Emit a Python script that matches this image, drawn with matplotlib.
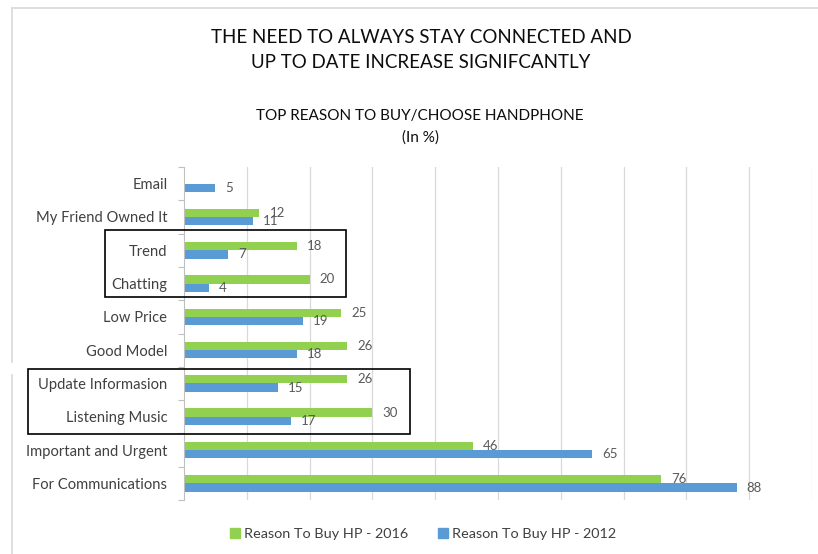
import numpy as np
import matplotlib
matplotlib.use("Agg")
import matplotlib.pyplot as plt
from matplotlib.lines import Line2D
from matplotlib.patches import Patch, Rectangle

plt.rcParams['font.family'] = ['Lato', 'DejaVu Sans']

# data (top to bottom)
categories = ["Email", "My Friend Owned It", "Trend", "Chatting", "Low Price",
              "Good Model", "Update Informasion", "Listening Music",
              "Important and Urgent", "For Communications"]
hp_2016 = [np.nan, 12, 18, 20, 25, 26, 26, 30, 46, 76]
hp_2012 = [5, 11, 7, 4, 19, 18, 15, 17, 65, 88]

GREEN = '#92D050'
BLUE = '#5B9BD5'
W, H = 818, 554

fig = plt.figure(figsize=(W / 100, H / 100), dpi=100)
ax = fig.add_axes([184 / W, 1 - 500 / H, 628 / W, 333 / H])


def fx(px):
    return px / W


def fy(py):
    return 1 - py / H


y = np.arange(len(categories))
bh = 0.25
ax.barh(y - bh / 2, hp_2016, height=bh, color=GREEN, label='Reason To Buy HP - 2016')
ax.barh(y + bh / 2, hp_2012, height=bh, color=BLUE, label='Reason To Buy HP - 2012')

# data labels
for yi, v in zip(y, hp_2016):
    if not np.isnan(v):
        ax.annotate(f"{v:g}", (v, yi - bh / 2), xytext=(10, 0), textcoords='offset pixels',
                    ha='left', va='center', fontsize=9.5, color='#595959')
for yi, v in zip(y, hp_2012):
    ax.annotate(f"{v:g}", (v, yi + bh / 2), xytext=(10, 0), textcoords='offset pixels',
                ha='left', va='center', fontsize=9.5, color='#595959')

ax.set_xlim(0, 100)
ax.set_ylim(len(categories) - 0.5, -0.5)
ax.set_xticks(np.arange(10, 101, 10))
ax.tick_params(axis='x', length=0, labelbottom=False)
ax.grid(axis='x', color='#D9D9D9', linewidth=0.9)
ax.set_axisbelow(True)

ax.set_yticks(y)
ax.set_yticklabels(categories, fontsize=10.6, color='#404040')
ax.set_yticks(np.arange(-0.5, len(categories)), minor=True)
ax.tick_params(axis='y', which='major', length=0, pad=12)
ax.tick_params(axis='y', which='minor', length=4.5, color='#BFBFBF', width=0.8)

for s in ['top', 'right', 'bottom']:
    ax.spines[s].set_visible(False)
ax.spines['left'].set_color('#BFBFBF')
ax.spines['left'].set_linewidth(0.8)

# highlight boxes
ax.add_patch(Rectangle((-12.6, 1.39), 38.4, 2.01, fill=False, edgecolor='#000000',
                       linewidth=1.2, clip_on=False, zorder=5))
ax.add_patch(Rectangle((-24.9, 5.57), 60.9, 1.95, fill=False, edgecolor='#000000',
                       linewidth=1.2, clip_on=False, zorder=5))

# titles
fig.text(fx(421), fy(50), "THE NEED TO ALWAYS STAY CONNECTED AND\nUP TO DATE INCREASE SIGNIFCANTLY",
         ha='center', va='center', fontsize=13.5, color='#0D0D0D', linespacing=1.6)
fig.text(fx(420), fy(127), "TOP REASON TO BUY/CHOOSE HANDPHONE\n(In %)",
         ha='center', va='center', fontsize=11, color='#0D0D0D', linespacing=1.6)

# legend
handles = [Patch(color=GREEN), Patch(color=BLUE)]
fig.legend(handles, ['Reason To Buy HP - 2016', 'Reason To Buy HP - 2012'],
           loc='center', bbox_to_anchor=(fx(423), fy(534)), ncol=2, frameon=False,
           fontsize=10.4, labelcolor='#404040', handlelength=0.7, handleheight=0.7,
           handletextpad=0.3, columnspacing=2.0)

# chart area border (partial)
fig.add_artist(Line2D([fx(12), 1], [fy(8), fy(8)], color='#D9D9D9', linewidth=1.2))
fig.add_artist(Line2D([fx(12), fx(12)], [fy(8), fy(362)], color='#D9D9D9', linewidth=1.2))
fig.add_artist(Line2D([fx(12), fx(12)], [fy(375), 0], color='#D9D9D9', linewidth=1.2))

fig.savefig('out.png', dpi=100)
